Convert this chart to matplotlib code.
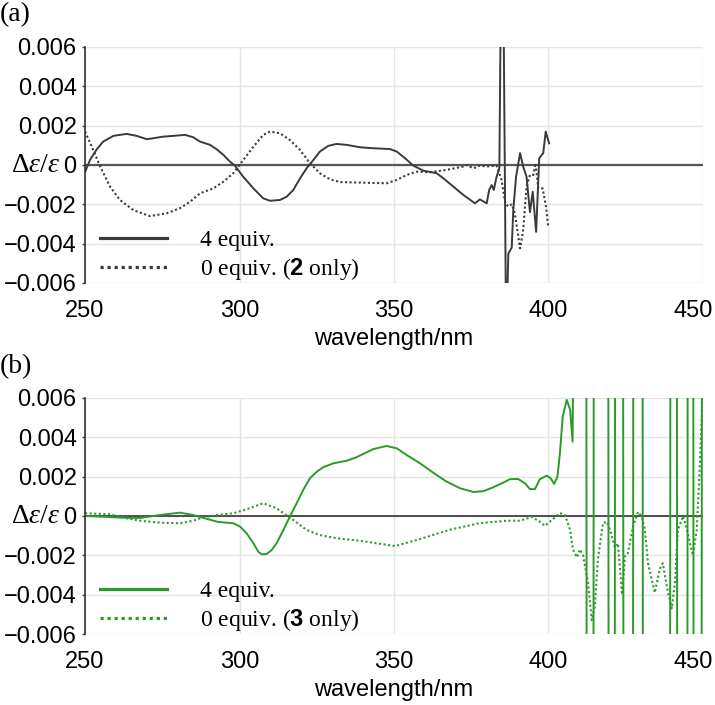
import matplotlib
matplotlib.use("Agg")
import matplotlib.pyplot as plt
import matplotlib.transforms as mtransforms

plt.rcParams["font.family"] = ["Liberation Sans", "DejaVu Sans"]
plt.rcParams["mathtext.fontset"] = "custom"
plt.rcParams["mathtext.rm"] = "Liberation Serif"
plt.rcParams["mathtext.it"] = "Liberation Serif:italic"
plt.rcParams["mathtext.bf"] = "Liberation Sans:bold"

# (a) 4 equiv. (solid) and 2 only (dotted)
a_solid_x = [250, 251.6, 253.8, 255.9, 259.2, 263.5, 266.7, 270, 272.1, 275.3, 278.6, 282.4,
             285, 287.2, 290.5, 292.6, 294.8, 296.9, 298.5, 301.2, 304.5, 307.7, 309.9, 313.1,
             315.3, 317.4, 319.6, 321.7, 323.9, 326, 328.7, 331.4, 334.7, 339, 343.3, 348.7,
             350.9, 353.6, 356.2, 359.5, 363.8, 366, 369.2, 372.5, 374, 376.2, 377.8, 380,
             380.8, 381.6, 382.3, 383.2, 384.1, 384.6, 385.4, 386.3, 387, 388.1, 388.6, 389.5,
             390.8, 391.8, 392.9, 394, 394.9, 396, 397, 397.8, 398.3, 399.1, 400.2]
a_solid_y = [-0.00036, 0.00025, 0.0008, 0.00119, 0.00148, 0.00158, 0.00148, 0.00131, 0.00136,
             0.00144, 0.00148, 0.00153, 0.00141, 0.00119, 0.00102, 0.0008, 0.00051, 0.00017,
             -0.00003, -0.0006, -0.00119, -0.0017, -0.00182, -0.00178, -0.00161, -0.00127,
             -0.00068, -0.00017, 0.00025, 0.00068, 0.00097, 0.00107, 0.00102, 0.0009, 0.00085,
             0.00081, 0.00068, 0.00034, -0.00003, -0.00029, -0.00042, -0.00068, -0.0011,
             -0.00153, -0.0017, -0.00195, -0.00175, -0.00195, -0.00127, -0.00102, -0.00127,
             -0.0006, -0.00017, 0.009, 0.009, -0.009, -0.0045, -0.0042, -0.0023, -0.0006,
             0.0006, -0.00008, -0.0006, -0.0024, -0.00136, -0.0034, 0.00034, 0.00051, 0.0006,
             0.0017, 0.0011]
a_dot_x = [250, 252.2, 254.9, 258.1, 261.3, 265.6, 271, 276.4, 280.7, 284, 287.2, 291.5, 294.8,
           298, 301.2, 304.5, 307.7, 309.9, 313.1, 316.3, 319.6, 322.8, 326, 329.3, 332.5,
           347.6, 350.9, 354.1, 357.3, 361.6, 367, 372.4, 373.5, 375.7, 377.8, 380, 383.2,
           384.8, 386, 387, 388.1, 389.1, 390.8, 391.8, 392.9, 394, 395.1, 395.8, 396.7,
           398.1, 399.2, 399.9]
a_dot_y = [0.0017, 0.00093, -0.00008, -0.0011, -0.00178, -0.00229, -0.0026, -0.00246, -0.0022,
           -0.00187, -0.00144, -0.00119, -0.00085, -0.00042, 0.00025, 0.00093, 0.00153, 0.0017,
           0.00161, 0.00127, 0.00076, 0.00009, -0.00042, -0.00073, -0.00087, -0.00093,
           -0.00076, -0.00051, -0.00034, -0.00037, -0.00025, -0.00008, 0.0, -0.00017,
           -0.00003, -0.00008, -0.00003, -0.00076, -0.00195, -0.00212, -0.002, -0.00246,
           -0.00424, -0.00331, -0.0011, -0.00051, -0.00051, 0.00009, -0.00119, -0.00119,
           -0.00212, -0.00314]

# (b) 4 equiv. (solid) and 3 only (dotted)
b_solid_x = [250, 254.9, 261, 267.8, 274.3, 280.7, 285, 289.5, 293, 298, 300.2, 302.3, 304.5,
             306.1, 307.2, 308.8, 310.4, 312, 314.2, 316.3, 318.5, 320.6, 322.8, 325, 327.1,
             330.4, 334.7, 337.9, 343.3, 347.6, 350.9, 354.1, 358.4, 362.7, 367, 371.4, 375.7,
             378.9, 382.1, 385.4, 387.5, 390.2, 392.4, 394, 395.6, 397.2, 399.4, 400.7, 401.8,
             402.9, 403.7, 404.6, 405.9, 407, 407.8,
             408.6, 412.2, 412.4, 414.5, 414.7, 419.3, 419.5, 421.4, 421.6, 424.1, 424.3,
             427.3, 427.5, 430.4, 430.6, 439.3, 439.5, 441.5, 441.7, 444.9, 445.1, 446.8,
             447.0, 449.5, 449.7, 451]
b_solid_y = [0.0, -0.00003, -0.00008, -0.0001, 0.00005, 0.00017, 0.00005, -0.00015, -0.0003,
             -0.00037, -0.00054, -0.00088, -0.00139, -0.00182, -0.00195, -0.00193, -0.00173,
             -0.00139, -0.00071, -0.00003, 0.00065, 0.00132, 0.00192, 0.00225, 0.00248,
             0.00268, 0.00281, 0.00299, 0.0034, 0.00356, 0.00344, 0.0031, 0.00268, 0.0022,
             0.00175, 0.00141, 0.00122, 0.00126, 0.00146, 0.0017, 0.00187, 0.00188, 0.00166,
             0.00137, 0.00136, 0.00187, 0.00205, 0.00192, 0.00163, 0.002, 0.00319, 0.00505,
             0.0059, 0.0054, 0.00378,
             0.02, 0.02, -0.02, -0.02, 0.02, 0.02, -0.02, -0.02, 0.02, 0.02, -0.02,
             -0.02, 0.02, 0.02, -0.02, -0.02, 0.02, 0.02, -0.02, -0.02, 0.02, 0.02,
             -0.02, -0.02, 0.02, 0.02]
b_dot_x = [250, 258.1, 263.5, 267.8, 274.3, 280.7, 285, 287.2, 292.6, 298, 302.3, 307.7, 312,
           317.4, 321.7, 326, 331.4, 339, 343.2, 350.3, 357.4, 368.1, 377.8, 386.6, 390.8,
           394.6, 397.3, 398.8, 401.1, 403.7, 405.3, 407, 407.9, 409.2, 410.2, 411.2, 412.8,
           414, 415, 416, 417.6, 418.9, 419.9, 421.5, 422.5, 423.8, 424.8, 425.7, 427.3, 429,
           430.2, 431.2, 432.2, 434.4, 436, 437, 438.3, 439.9, 440.9, 441.9, 443.6, 445.1,
           446.7, 448, 449, 450]
b_dot_y = [0.00014, 0.00009, -0.00012, -0.00024, -0.00034, -0.00037, -0.00024, -0.00012,
           0.00005, 0.00014, 0.00034, 0.00065, 0.00039, -0.0002, -0.00071, -0.00097, -0.00113,
           -0.00126, -0.00136, -0.00153, -0.00122, -0.0007, -0.00036, -0.00024, -0.00024,
           -0.00005, -0.0003, -0.0005, -0.0002, 0.00015, 0.00005, -0.0007, -0.0017, -0.0021,
           -0.0017, -0.002, -0.0034, -0.0053, -0.0046, -0.0022, -0.00036, -0.0003, -0.0007,
           -0.0016, -0.0014, -0.004, -0.002, -0.0019, -0.00056, 0.0002, -0.00003, -0.0007,
           -0.0024, -0.0039, -0.0027, -0.0024, -0.0036, -0.0047, -0.0034, -0.0007, 0.0,
           -0.0009, -0.002, -0.0007, 0.0027, 0.0065]

x_ticks = [250, 300, 350, 400, 450]
y_ticks = [-0.006, -0.004, -0.002, 0, 0.002, 0.004, 0.006]
y_ticklabels = ["\u22120.006", "\u22120.004", "\u22120.002", "0", "0.002", "0.004", "0.006"]


def draw_panel(fig, ax, sx, sy, dx, dy, color, zero_color, zero_lw, compound):
    ax.set_xlim(250, 450)
    ax.set_ylim(-0.006, 0.006)
    ax.set_xticks(x_ticks)
    ax.set_yticks(y_ticks)
    ax.set_yticklabels(y_ticklabels)
    # x tick labels are placed by their baseline
    ax.tick_params(axis="x", length=0, pad=24.7, labelsize=17)
    ax.tick_params(axis="y", length=2.5, width=1, pad=3.5, labelsize=17, color="#333333")
    for lbl in ax.get_xticklabels():
        lbl.set_va("baseline")
    ax.grid(True, color="#e4e4e4", linewidth=1.0)
    ax.set_axisbelow(True)
    for side in ["top", "right", "bottom"]:
        ax.spines[side].set_visible(False)
    ax.spines["left"].set_color("#333333")
    ax.spines["left"].set_linewidth(1.2)

    # last x label sits a little to the left, inside the figure
    last = ax.get_xticklabels()[-1]
    last.set_transform(last.get_transform()
                       + mtransforms.ScaledTranslation(-10 / 100, 0, fig.dpi_scale_trans))

    ax.axhline(0, color=zero_color, linewidth=zero_lw, zorder=1.5)
    ax.plot(sx, sy, color=color, linewidth=1.4, label="4 equiv.")
    ax.plot(dx, dy, color=color, linewidth=1.5, linestyle=(0, (1, 1.2)),
            label=r"0 equiv. ($\mathbf{" + compound + r"}$ only)")

    ax.set_xlabel("wavelength/nm", fontsize=17, va="baseline")
    ax.xaxis.set_label_coords(0.5, -62 / 236)
    ax.text(-0.04, 0, r"$\Delta\varepsilon/\varepsilon$", transform=ax.get_yaxis_transform(),
            ha="right", va="center", fontsize=20)

    leg = ax.legend(loc="lower left", bbox_to_anchor=(0.024, 0.005), frameon=False,
                    prop={"family": "Liberation Serif", "size": 17},
                    handlelength=2.85, handletextpad=1.4, labelspacing=0.2,
                    borderpad=0, borderaxespad=0)
    for line in leg.get_lines():
        line.set_linewidth(2.3)


fig = plt.figure(figsize=(7.15, 7.05), dpi=100)
ax_a = fig.add_axes([0.1189, 0.5986, 0.8643, 0.3348])
ax_b = fig.add_axes([0.1189, 0.1007, 0.8643, 0.3348])

draw_panel(fig, ax_a, a_solid_x, a_solid_y, a_dot_x, a_dot_y, "#3a3a3a", "#555555", 1.6, "2")
draw_panel(fig, ax_b, b_solid_x, b_solid_y, b_dot_x, b_dot_y, "#2b9a2b", "#222222", 1.1, "3")

fig.text(0.0, 1 - 15 / 705, "(a)", family="Liberation Serif", fontsize=20, va="center")
fig.text(0.0, 1 - 367 / 705, "(b)", family="Liberation Serif", fontsize=20, va="center")

fig.savefig("out.png", dpi=100)
